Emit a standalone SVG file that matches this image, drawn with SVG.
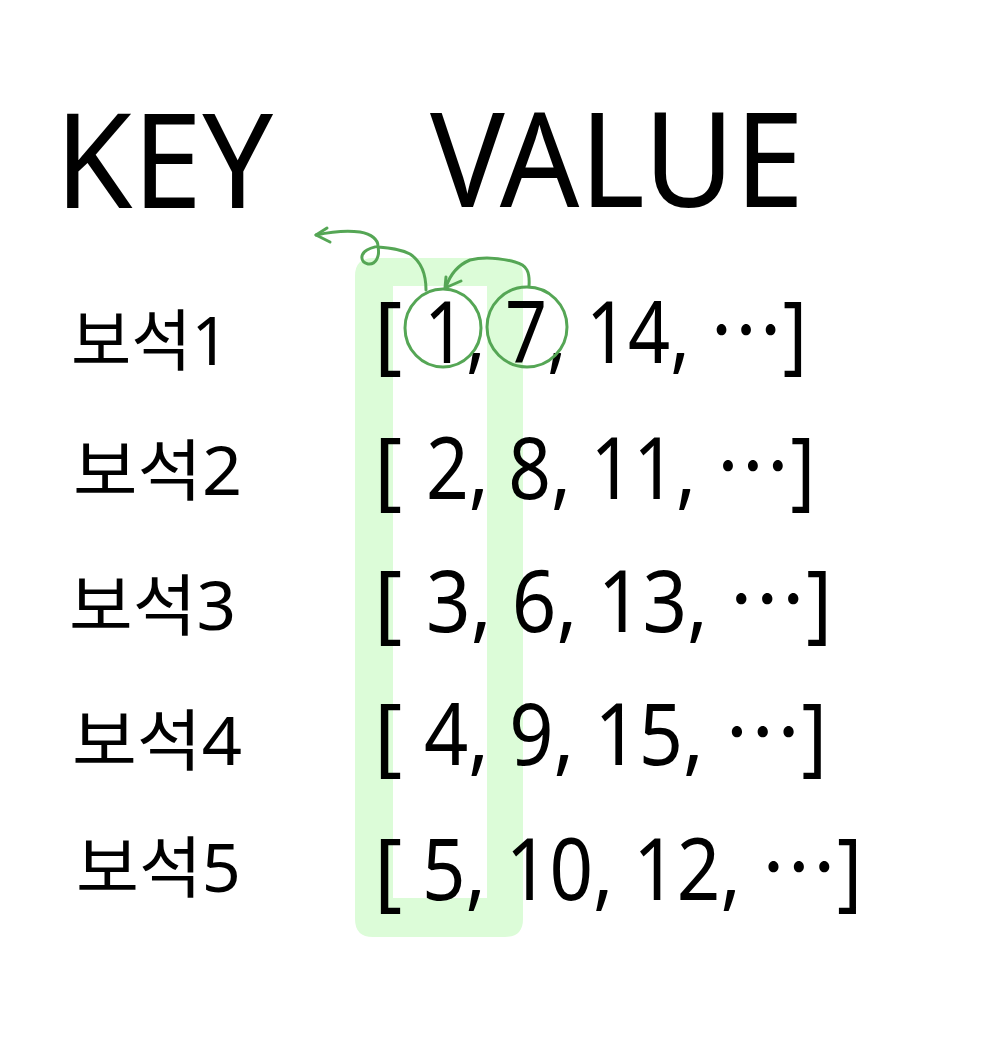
<svg xmlns="http://www.w3.org/2000/svg" width="1000" height="1052" viewBox="0 0 1000 1052">
<style>
.hd{font-family:"Noto Sans","Noto Sans CJK KR",sans-serif;font-size:132px;fill:#000}
.lb{font-family:"Noto Sans","Noto Sans CJK KR",sans-serif;font-size:67px;fill:#000}
.vl{font-family:"Noto Sans","Noto Sans CJK KR",sans-serif;font-size:86px;fill:#000}
.ink{fill:none;stroke:#55a655;stroke-width:3;stroke-linecap:round;stroke-linejoin:round}
</style>
<rect width="1000" height="1052" fill="#fff"/>
<g id="highlight">
<path fill="#dcfcd8" fill-rule="evenodd" d="M373,258 H505 Q523,258 523,276 V919 Q523,937 505,937 H373 Q355,937 355,919 V276 Q355,258 373,258 Z M393,286 V898 H487 V286 Z"/>
</g>
<g id="headers">
<text class="hd" x="55" y="208" textLength="218" lengthAdjust="spacingAndGlyphs">KEY</text>
<text class="hd" x="430" y="207" textLength="374" lengthAdjust="spacingAndGlyphs">VALUE</text>
</g>
<g id="row1"><text class="lb" x="71" y="365" textLength="158" lengthAdjust="spacingAndGlyphs">보석1</text><text class="vl" x="374" y="363">[</text><text class="vl" x="424" y="363" textLength="383" lengthAdjust="spacingAndGlyphs">1, 7, 14, ⋯]</text></g>
<g id="row2"><text class="lb" x="73" y="495" textLength="169" lengthAdjust="spacingAndGlyphs">보석2</text><text class="vl" x="374" y="499">[</text><text class="vl" x="426" y="499" textLength="389" lengthAdjust="spacingAndGlyphs">2, 8, 11, ⋯]</text></g>
<g id="row3"><text class="lb" x="69" y="630" textLength="167" lengthAdjust="spacingAndGlyphs">보석3</text><text class="vl" x="374" y="632">[</text><text class="vl" x="426" y="632" textLength="406" lengthAdjust="spacingAndGlyphs">3, 6, 13, ⋯]</text></g>
<g id="row4"><text class="lb" x="72" y="765" textLength="170" lengthAdjust="spacingAndGlyphs">보석4</text><text class="vl" x="374" y="765">[</text><text class="vl" x="424" y="765" textLength="403" lengthAdjust="spacingAndGlyphs">4, 9, 15, ⋯]</text></g>
<g id="row5"><text class="lb" x="76" y="892" textLength="165" lengthAdjust="spacingAndGlyphs">보석5</text><text class="vl" x="374" y="900">[</text><text class="vl" x="422" y="900" textLength="440" lengthAdjust="spacingAndGlyphs">5, 10, 12, ⋯]</text></g>
<g id="connectors">
<ellipse class="ink" cx="443" cy="328" rx="38" ry="39"/>
<ellipse class="ink" cx="527" cy="327" rx="40" ry="40"/>
<path class="ink" d="M529,286 C530,272 527,265 515,262 C500,258 485,256 470,260 C458,265 450,275 446,287"/>
<path class="ink" d="M446,277 L445,288 L461,281"/>
<path class="ink" d="M426,290 C426,275 422,262 410,254 C400,249 390,248 378,247 C380,256 376,265 368,264 C360,262 360,254 367,250 C372,247 376,247 378,246 C378,240 372,234 360,232 C345,230 330,232 316,235"/>
<path class="ink" d="M327,228 L316,235 L330,242"/>
</g>
</svg>
